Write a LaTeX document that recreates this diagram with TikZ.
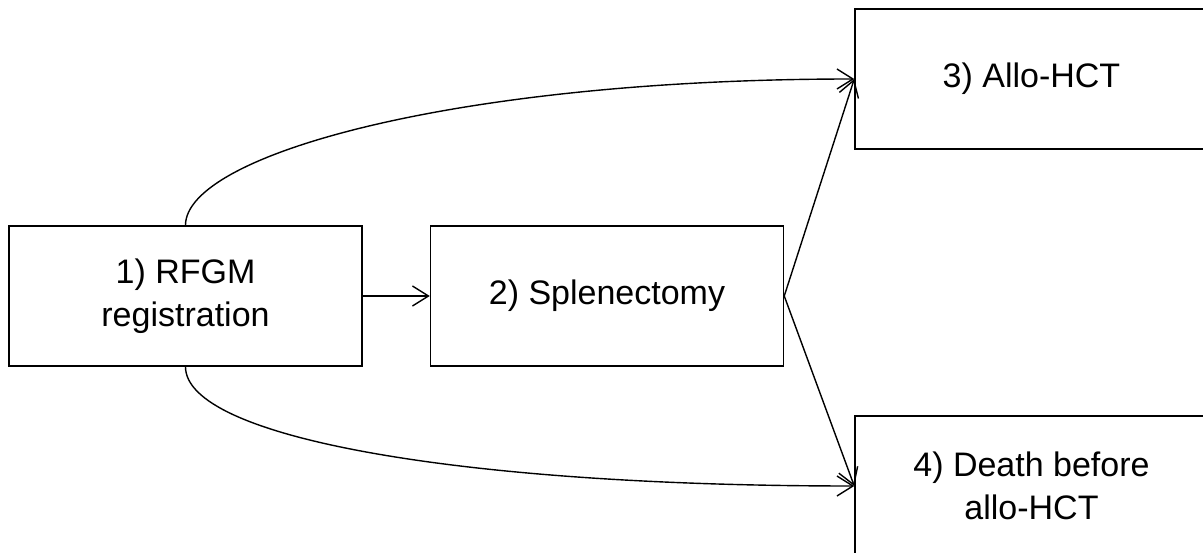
\documentclass[tikz,border=0pt]{standalone}
\usepackage{fontspec}
\setmainfont{Liberation Sans}
\usetikzlibrary{arrows.meta}
\begin{document}
\begin{tikzpicture}[x=1pt,y=-1pt,
  box/.style={draw=black, line width=1.5pt, minimum width=353pt, minimum height=140pt,
    inner sep=0pt, align=center, font=\fontsize{34}{43}\selectfont},
  conn/.style={draw=black, line width=1.4pt, -{Straight Barb[length=16pt,width=20pt,line width=1.4pt]}}]
\useasboundingbox (0,0) rectangle (1203,553);
\clip (0,0) rectangle (1203,553);
\fill[white] (0,0) rectangle (1203,553);
\node[box] (n1) at (185.5,296) {1) RFGM\\registration};
\node[box] (n2) at (607,296) {2) Splenectomy};
\node[box] (n3) at (1031.5,79) {3) Allo-HCT};
\node[box] (n4) at (1031.5,486) {4) Death before\\allo-HCT};
\draw[conn] (n1.east) -- (n2.west);
\draw[conn] (n2.east) -- (n3.west);
\draw[conn] (n2.east) -- (n4.west);
\draw[conn] (n1.north) .. controls +(0,-70) and +(-400,0) .. (n3.west);
\draw[conn] (n1.south) .. controls +(0,70) and +(-400,0) .. (n4.west);
\end{tikzpicture}
\end{document}
